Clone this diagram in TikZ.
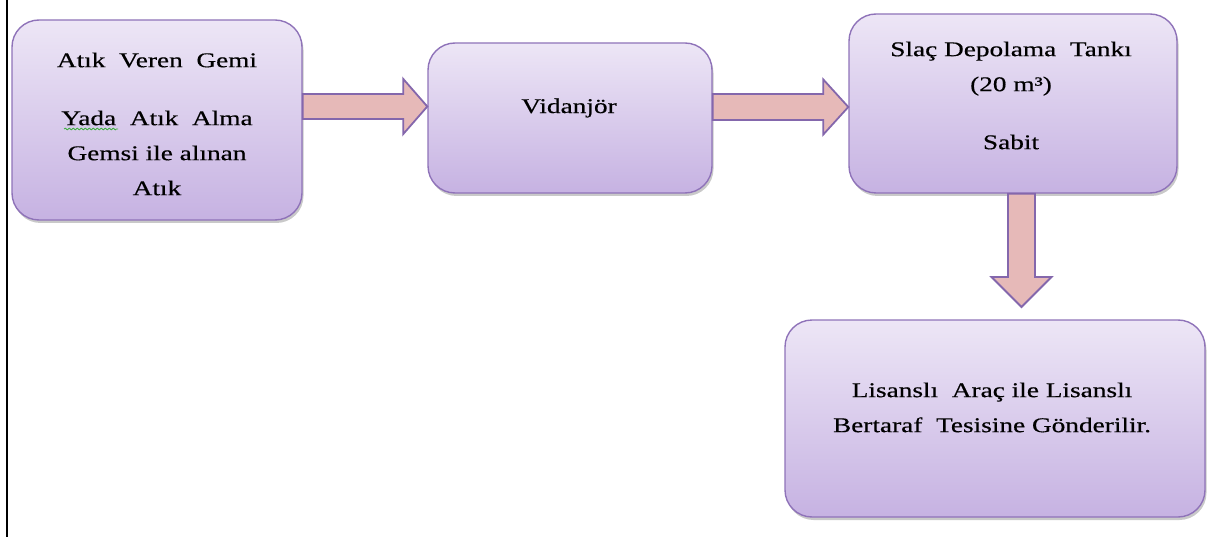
\documentclass[tikz,border=0pt]{standalone}
\usepackage{fontspec}
\setmainfont{Liberation Serif}
\newfontfamily\boxfont[FakeStretch=1.3,FakeBold=0.4]{Liberation Serif}
\usetikzlibrary{calc,shadows,decorations.pathmorphing}

\definecolor{boxtop}{HTML}{EDE6F6}
\definecolor{boxbottom}{HTML}{C6B2E2}
\definecolor{boxedge}{HTML}{8F73B9}
\definecolor{arrowfill}{HTML}{E6B9B8}
\definecolor{arrowedge}{HTML}{8467AC}
\definecolor{squiggle}{HTML}{3FAF3F}

\tikzset{
  stagebox/.style={draw=boxedge, line width=1.4pt, rounded corners=27pt,
    top color=boxtop, bottom color=boxbottom,
    drop shadow={shadow xshift=1.5pt, shadow yshift=-3pt, opacity=0.3, fill=black!70},
    inner sep=0pt},
  stagetext/.style={align=center, inner sep=0pt,
    font=\boxfont\fontsize{21}{35}\selectfont},
  fatarrow/.style={draw=arrowedge, fill=arrowfill, line width=1.8pt, line join=miter},
}

\begin{document}
\begin{tikzpicture}[x=1pt,y=-1pt]
  \useasboundingbox (0,0) rectangle (1217,537);

  % left margin rule
  \coordinate (ruletop) at (7,0);
  \coordinate (rulebot) at (7,537);
  \draw[line width=1.3pt] (ruletop) -- (rulebot);

  % process boxes
  \node[stagebox, minimum width=290pt, minimum height=200pt] (ship) at (157,120) {};
  \node[stagebox, minimum width=284pt, minimum height=150pt] (vac)  at (570,118) {};
  \node[stagebox, minimum width=328pt, minimum height=179pt] (tank) at (1013,103.5) {};
  \node[stagebox, minimum width=420pt, minimum height=197pt] (disp) at (995,418.5) {};

  % box texts
  \node[stagetext] (shiptxt) at (157,124)
    {Atık\ \ Veren\ \ Gemi\\[23pt]Yada\ \ Atık\ \ Alma\\Gemsi ile alınan\\Atık};
  \node[stagetext] (vactxt) at (569,108) {Vidanjör};
  \node[stagetext] (tanktxt) at (1011,95.5)
    {Slaç Depolama\ \ Tankı\\(20 m³)\\[23pt]Sabit};
  \node[stagetext] (disptxt) at (992,407.5)
    {Lisanslı\ \ Araç ile Lisanslı\\Bertaraf\ \ Tesisine Gönderilir.};

  % spell-check mark under "Yada"
  \draw[squiggle, line width=0.8pt,
        decorate, decoration={snake, segment length=4pt, amplitude=0.9pt}]
    (64,129) -- (118,129);

  % block arrows between the boxes
  \coordinate (a1s) at (ship.east |- 0,106.5);
  \coordinate (a1e) at (vac.west |- 0,106.5);
  \draw[fatarrow] ($(a1s)+(0,-12.5)$) -- ($(a1e)+(-24,-12.5)$) -- ($(a1e)+(-24,-27.5)$)
    -- (a1e) -- ($(a1e)+(-24,27.5)$) -- ($(a1e)+(-24,12.5)$) -- ($(a1s)+(0,12.5)$) -- cycle;

  \coordinate (a2s) at (vac.east |- 0,107);
  \coordinate (a2e) at (tank.west |- 0,107);
  \draw[fatarrow] ($(a2s)+(0,-13)$) -- ($(a2e)+(-25,-13)$) -- ($(a2e)+(-25,-27.5)$)
    -- (a2e) -- ($(a2e)+(-25,27.5)$) -- ($(a2e)+(-25,13)$) -- ($(a2s)+(0,13)$) -- cycle;

  \coordinate (a3s) at (tank.south -| 1021.5,0);
  \coordinate (a3e) at (1021.5,307);
  \draw[fatarrow] ($(a3s)+(-13.5,0)$) -- ($(a3e)+(-13.5,-30)$) -- ($(a3e)+(-30,-30)$)
    -- (a3e) -- ($(a3e)+(30,-30)$) -- ($(a3e)+(13.5,-30)$) -- ($(a3s)+(13.5,0)$) -- cycle;
\end{tikzpicture}
\end{document}
